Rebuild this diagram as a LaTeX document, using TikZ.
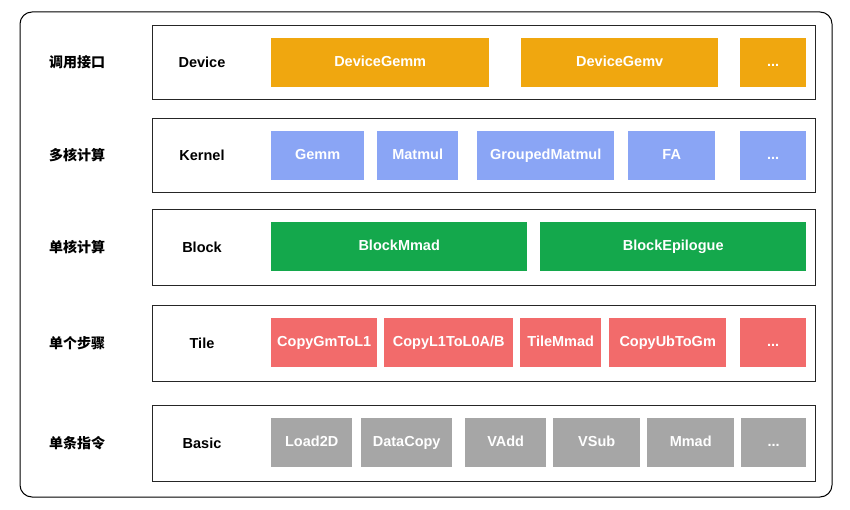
\documentclass[tikz,border=0pt]{standalone}
\usepackage{fontspec}
\setmainfont{Liberation Sans}
\newfontfamily\cjk{Noto Sans CJK SC}
\usetikzlibrary{positioning}
\definecolor{devc}{HTML}{F0A70F}
\definecolor{kerc}{HTML}{8AA5F5}
\definecolor{blkc}{HTML}{14A84C}
\definecolor{tilc}{HTML}{F26B6B}
\definecolor{basc}{HTML}{A6A6A6}
\tikzset{
  layer/.style={draw=black!85,line width=0.8pt,fill=white,anchor=north west,inner sep=0pt},
  op/.style={anchor=north west,inner sep=0pt,text=white,text height=10pt,text depth=3pt,
    font=\fontsize{14.5}{17}\selectfont\bfseries},
  lvl/.style={font=\fontsize{14.5}{17}\selectfont\bfseries},
  cn/.style={font=\cjk\fontsize{14}{17}\selectfont\bfseries}
}
% box: name, x, y, width, colour, text
\newcommand{\opbox}[6]{\node[op,fill=#5,minimum width=#4pt,minimum height=49pt] (#1) at (#2pt,-#3pt) {#6};}
\begin{document}
\begin{tikzpicture}
\useasboundingbox (0,0) rectangle (850pt,-510pt);
\draw[line width=1pt,rounded corners=12pt] (20pt,-12pt) rectangle (832pt,-497pt);

%LAYERS
\node[layer,minimum width=663pt,minimum height=74pt] (devL) at (152pt,-25pt) {};
\node[layer,minimum width=663pt,minimum height=74pt] (kerL) at (152pt,-118pt) {};
\node[layer,minimum width=663pt,minimum height=76pt] (blkL) at (152pt,-209pt) {};
\node[layer,minimum width=663pt,minimum height=76pt] (tilL) at (152pt,-305pt) {};
\node[layer,minimum width=663pt,minimum height=76pt] (basL) at (152pt,-405pt) {};

%LABELS
\node[cn] (devC) at (77pt,-62pt) {调用接口};
\node[cn] (kerC) at (77pt,-155pt) {多核计算};
\node[cn] (blkC) at (77pt,-247pt) {单核计算};
\node[cn] (tilC) at (77pt,-343pt) {单个步骤};
\node[cn] (basC) at (77pt,-443pt) {单条指令};
\node[lvl] (devN) at (202pt,-62pt) {Device};
\node[lvl] (kerN) at (202pt,-155pt) {Kernel};
\node[lvl] (blkN) at (202pt,-247pt) {Block};
\node[lvl] (tilN) at (202pt,-343pt) {Tile};
\node[lvl] (basN) at (202pt,-443pt) {Basic};

%Device
\opbox{dGemm}{271}{38}{218}{devc}{DeviceGemm}
\opbox{dGemv}{521}{38}{197}{devc}{DeviceGemv}
\opbox{dMore}{740}{38}{66}{devc}{...}
%Kernel
\opbox{kGemm}{271}{131}{93}{kerc}{Gemm}
\opbox{kMatmul}{377}{131}{81}{kerc}{Matmul}
\opbox{kGroup}{477}{131}{137}{kerc}{GroupedMatmul}
\opbox{kFA}{628}{131}{87}{kerc}{FA}
\opbox{kMore}{740}{131}{66}{kerc}{...}
%Block
\opbox{bMmad}{271}{222}{256}{blkc}{BlockMmad}
\opbox{bEpi}{540}{222}{266}{blkc}{BlockEpilogue}
%Tile
\opbox{tGmL1}{271}{318}{106}{tilc}{CopyGmToL1}
\opbox{tL1L0}{384}{318}{129}{tilc}{CopyL1ToL0A/B}
\opbox{tMmad}{520}{318}{81}{tilc}{TileMmad}
\opbox{tUbGm}{609}{318}{117}{tilc}{CopyUbToGm}
\opbox{tMore}{740}{318}{66}{tilc}{...}
%Basic
\opbox{aLoad}{271}{418}{81}{basc}{Load2D}
\opbox{aCopy}{361}{418}{91}{basc}{DataCopy}
\opbox{aVAdd}{465}{418}{81}{basc}{VAdd}
\opbox{aVSub}{553}{418}{87}{basc}{VSub}
\opbox{aMmad}{647}{418}{87}{basc}{Mmad}
\opbox{aMore}{741}{418}{65}{basc}{...}
\end{tikzpicture}
\end{document}
